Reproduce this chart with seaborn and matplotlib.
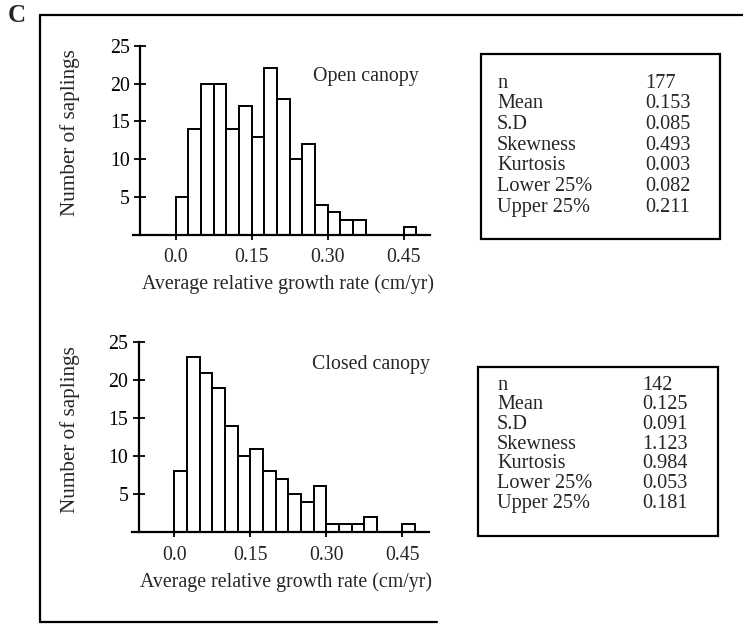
import numpy as np
import pandas as pd
import matplotlib
matplotlib.use("Agg")
import matplotlib.pyplot as plt
from matplotlib.patches import Rectangle
from matplotlib.lines import Line2D
import seaborn as sns

# Histogram bins: left edges of 0.025-wide growth-rate classes
bin_starts = [0.0, 0.025, 0.05, 0.075, 0.10, 0.125, 0.15, 0.175, 0.20, 0.225,
              0.25, 0.275, 0.30, 0.325, 0.35, 0.375, 0.40, 0.425, 0.45]
bin_width = 0.025

# Sapling counts per class
open_counts = [5, 14, 20, 20, 14, 17, 13, 22, 18, 10, 12, 4, 3, 2, 2, 0, 0, 0, 1]
closed_counts = [8, 23, 21, 19, 14, 10, 11, 8, 7, 5, 4, 6, 1, 1, 1, 2, 0, 0, 1]

panel_titles = ["Open canopy", "Closed canopy"]

# Summary statistics shown beside each histogram
stat_labels = ["n", "Mean", "S.D", "Skewness", "Kurtosis", "Lower 25%", "Upper 25%"]
open_stats = ["177", "0.153", "0.085", "0.493", "0.003", "0.082", "0.211"]
closed_stats = ["142", "0.125", "0.091", "1.123", "0.984", "0.053", "0.181"]

x_ticks = [0.0, 0.15, 0.30, 0.45]
x_ticklabels = ["0.0", "0.15", "0.30", "0.45"]
y_ticks = [5, 10, 15, 20, 25]

sns.set_theme(style="white")
plt.rcParams["font.family"] = ["Liberation Serif", "DejaVu Serif"]

W, H = 743, 624
fig = plt.figure(figsize=(W / 100, H / 100), dpi=100)
fig.patch.set_facecolor("white")

FS = 14.3
FS_STAT = 14.6
FS_YLAB = 15.2


def fx(px):
    return px / W


def fy(py):
    return 1 - py / H


xmin, xmax = -0.084, 0.502
px_per_unit = 506.7


def make_axes(zero_px, y0_px, y25_px):
    left = zero_px + xmin * px_per_unit
    width = (xmax - xmin) * px_per_unit
    return fig.add_axes([fx(left), fy(y0_px), width / W, (y0_px - y25_px) / H])


panels = [
    dict(counts=open_counts, stats=open_stats, title=panel_titles[0],
         zero=175.7, y0=235.0, y25=45.7,
         title_xy=(366, 77), box=(481, 54, 720, 239),
         row0=83, dy=20.7, lab_x=497, val_x=645,
         tick_y=258, xlabel_y=284, xlabel_x=288),
    dict(counts=closed_counts, stats=closed_stats, title=panel_titles[1],
         zero=174.3, y0=532.0, y25=342.3,
         title_xy=(371, 365), box=(478, 367, 718, 536),
         row0=385, dy=19.7, lab_x=497, val_x=642,
         tick_y=556, xlabel_y=582, xlabel_x=286),
]

edges = list(bin_starts) + [bin_starts[-1] + bin_width]

for p in panels:
    ax = make_axes(p["zero"], p["y0"], p["y25"])
    df = pd.DataFrame({"rate": np.array(bin_starts) + bin_width / 2,
                       "count": p["counts"]})
    sns.histplot(data=df, x="rate", weights="count", bins=edges, ax=ax,
                 color="white", edgecolor="black", linewidth=1.4, alpha=1)
    ax.set_xlim(xmin, xmax)
    ax.set_ylim(0, 25)
    ax.set_facecolor("none")
    for s in ["top", "right"]:
        ax.spines[s].set_visible(False)
    ax.spines["left"].set_position(("data", -0.07))
    ax.spines["left"].set_bounds(0, 25)
    for s in ["left", "bottom"]:
        ax.spines[s].set_color("black")
        ax.spines[s].set_linewidth(1.6)
    ax.set_xticks(x_ticks)
    ax.set_xticklabels([])
    ax.set_yticks(y_ticks)
    ax.set_yticklabels([str(v) for v in y_ticks], fontsize=FS)
    ax.tick_params(axis="y", direction="inout", length=9, width=1.3,
                   colors="black", pad=3, left=True)
    ax.tick_params(axis="x", direction="inout", length=7, width=1.3,
                   colors="black", bottom=True)
    ax.set_xlabel("")
    ax.set_ylabel("")
    ax.grid(False)

    # x tick labels and axis labels placed in figure pixels
    for v, lab in zip(x_ticks, x_ticklabels):
        fig.text(fx(p["zero"] + v * px_per_unit), fy(p["tick_y"]), lab,
                 ha="center", va="center", fontsize=FS)
    fig.text(fx(p["xlabel_x"]), fy(p["xlabel_y"]),
             "Average relative growth rate (cm/yr)",
             ha="center", va="center", fontsize=FS)
    fig.text(fx(70), fy((p["y0"] + p["y25"]) / 2 - 8), "Number of saplings",
             rotation=90, ha="center", va="center", fontsize=FS_YLAB)
    fig.text(fx(p["title_xy"][0]), fy(p["title_xy"][1]), p["title"],
             ha="center", va="center", fontsize=FS)

    # statistics box
    x0, y0, x1, y1 = p["box"]
    fig.patches.append(Rectangle((fx(x0), fy(y1)), (x1 - x0) / W, (y1 - y0) / H,
                                 transform=fig.transFigure, fill=False,
                                 edgecolor="black", linewidth=1.6))
    for i, (lab, val) in enumerate(zip(stat_labels, p["stats"])):
        yy = fy(p["row0"] + i * p["dy"])
        fig.text(fx(p["lab_x"]), yy, lab, ha="left", va="center", fontsize=FS_STAT)
        fig.text(fx(p["val_x"]), yy, val, ha="left", va="center", fontsize=FS_STAT)

# outer panel frame
for (xa, ya, xb, yb) in [(40, 15, 743, 15), (40, 15, 40, 621.5), (40, 621.5, 437, 621.5)]:
    fig.lines.append(Line2D([fx(xa), fx(xb)], [fy(ya), fy(yb)],
                            transform=fig.transFigure, color="black", linewidth=1.6))

fig.text(fx(17), fy(15), "C", ha="center", va="center", fontsize=18,
         fontweight="bold")

fig.savefig("out.png", dpi=100, facecolor="white")
